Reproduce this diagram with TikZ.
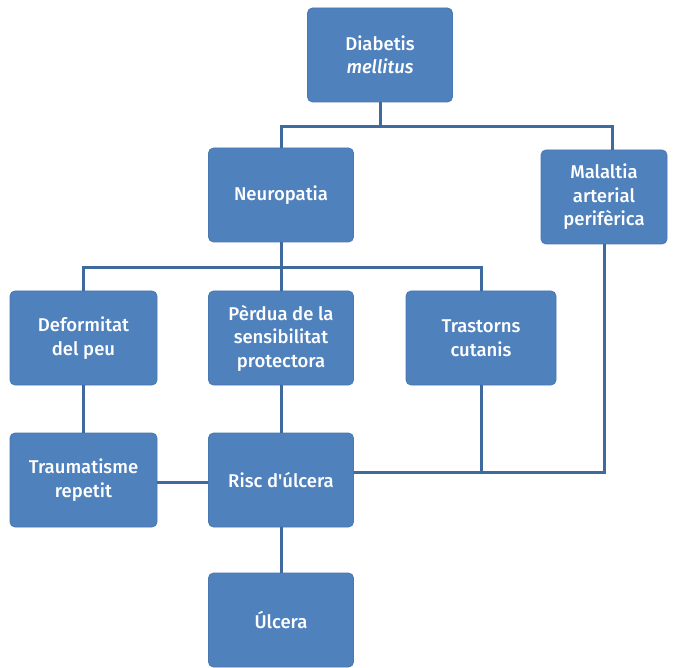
\documentclass[tikz,border=0pt]{standalone}
\usepackage{fontspec}
\setmainfont{Fira Sans}[UprightFont=* Medium,ItalicFont=* Medium Italic,Ligatures=TeXOff]
\usetikzlibrary{calc}
\definecolor{boxfill}{HTML}{4F81BD}
\definecolor{boxline}{HTML}{4A78B0}
\definecolor{conn}{HTML}{3F6A9E}
\begin{document}
\begin{tikzpicture}[x=1pt,y=-1pt,
  box/.style={draw=boxline,fill=boxfill,rounded corners=5pt,line width=0.8pt,
    text=white,align=center,font=\fontsize{18.5}{23.5}\selectfont,
    minimum width=145pt,minimum height=94pt,inner sep=2pt},
  link/.style={draw=conn,line width=3pt}]
\useasboundingbox (0,0) rectangle (680,668);
\node[box] (dm) at (380,55) {Diabetis\\\textit{mellitus}};
\node[box] (neu) at (281,195) {Neuropatia};
\node[box,minimum width=126pt] (mal) at (604,197) {Malaltia\\arterial\\perifèrica};
\node[box,minimum width=147pt] (def) at (83.5,338) {Deformitat\\del peu};
\node[box] (per) at (281,338) {Pèrdua de la\\sensibilitat\\protectora};
\node[box,minimum width=150pt] (tra) at (481,338) {Trastorns\\cutanis};
\node[box,minimum width=147pt] (trm) at (83.5,480) {Traumatisme\\repetit};
\node[box] (risc) at (281,480) {Risc d'úlcera};
\node[box] (ulc) at (281,620) {Úlcera};
\coordinate (h1) at (380,127);
\coordinate (h2) at (281,268);
\path[link] (dm.south) -- (h1);
\path[link] (neu.north) |- (h1) -| ($(mal.north)+(8,0)$);
\path[link] (neu.south) -- (h2);
\path[link] (def.north) |- (h2) -| (tra.north);
\path[link] (h2) -- (per.north);
\path[link] (def.south) -- (trm.north);
\path[link] (per.south) -- (risc.north);
\path[link] (trm.east |- 0,482) -- (risc.west |- 0,482);
\path[link] (risc.east |- 0,472) -- (mal.south |- 0,472) -- (mal.south);
\path[link] (tra.south) -- (tra.south |- 0,472);
\path[link] (risc.south) -- (ulc.north);
\end{tikzpicture}
\end{document}
